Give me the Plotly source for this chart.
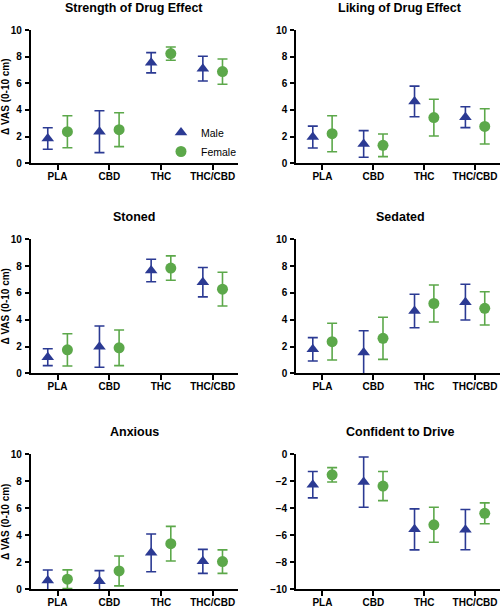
import plotly.graph_objects as go

categories = ["PLA", "CBD", "THC", "THC/CBD"]
titles = ["Strength of Drug Effect", "Liking of Drug Effect", "Stoned",
          "Sedated", "Anxious", "Confident to Drive"]

male_mean = [
    [1.86, 2.37, 7.54, 7.10],
    [1.97, 1.45, 4.64, 3.46],
    [1.20, 1.99, 7.67, 6.80],
    [1.79, 1.55, 4.65, 5.31],
    [0.65, 0.60, 2.70, 2.07],
    [-2.25, -2.06, -5.56, -5.58],
]
male_err = [
    [0.81, 1.57, 0.76, 0.93],
    [0.82, 1.00, 1.15, 0.78],
    [0.63, 1.54, 0.84, 1.10],
    [0.87, 1.62, 1.25, 1.33],
    [0.78, 0.78, 1.40, 0.89],
    [0.98, 1.86, 1.52, 1.49],
]
female_mean = [
    [2.37, 2.52, 8.23, 6.88],
    [2.22, 1.35, 3.43, 2.77],
    [1.75, 1.90, 7.85, 6.28],
    [2.36, 2.61, 5.21, 4.85],
    [0.75, 1.36, 3.38, 2.05],
    [-1.52, -2.35, -5.22, -4.37],
]
female_err = [
    [1.20, 1.27, 0.50, 0.95],
    [1.35, 0.85, 1.38, 1.32],
    [1.20, 1.33, 0.91, 1.26],
    [1.37, 1.57, 1.38, 1.24],
    [0.69, 1.11, 1.28, 0.87],
    [0.53, 1.08, 1.30, 0.77],
]

y_ranges = [[0, 10]] * 5 + [[-10, 0]]
y_ticks = [[0, 2, 4, 6, 8, 10]] * 5 + [[0, -2, -4, -6, -8, -10]]

BLUE = "#2B3A93"
GREEN = "#5CA84A"
FONT = "Liberation Sans, Arial, sans-serif"
W, H = 500, 608

x_domains = [[30.7 / W, 238 / W], [296 / W, 1.0]]
y_domains = [
    [1 - 163.3 / H, 1 - 30 / H],
    [1 - 373.3 / H, 1 - 239.3 / H],
    [1 - 589.3 / H, 1 - 454.3 / H],
]
OFF = 0.19

fig = go.Figure()
layout = dict(
    width=W, height=H, margin=dict(l=0, r=0, t=0, b=0, autoexpand=False),
    paper_bgcolor="white", plot_bgcolor="white",
    font=dict(family=FONT, color="black"),
    showlegend=True,
    legend=dict(x=161 / W, y=1 - 118 / H, xanchor="left", yanchor="top",
                bgcolor="rgba(0,0,0,0)", font=dict(size=10.5, family=FONT),
                itemwidth=30, tracegroupgap=0),
)
annotations = []

idx = list(range(len(categories)))
for p in range(6):
    r, c = divmod(p, 2)
    n = p + 1
    xa = "x" if n == 1 else f"x{n}"
    ya = "y" if n == 1 else f"y{n}"
    xm = [i - OFF for i in idx]
    xf = [i + OFF for i in idx]
    fig.add_trace(go.Scatter(
        x=xm, y=male_mean[p], mode="markers", name="Male",
        showlegend=(p == 0), legendgroup="m",
        marker=dict(symbol="triangle-up", size=11, color=BLUE),
        error_y=dict(type="data", array=male_err[p], color=BLUE,
                     thickness=1.6, width=5),
        xaxis=xa, yaxis=ya, cliponaxis=True))
    fig.add_trace(go.Scatter(
        x=xf, y=female_mean[p], mode="markers", name="Female",
        showlegend=(p == 0), legendgroup="f",
        marker=dict(symbol="circle", size=11, color=GREEN),
        error_y=dict(type="data", array=female_err[p], color=GREEN,
                     thickness=1.6, width=5),
        xaxis=xa, yaxis=ya, cliponaxis=True))

    xkey = "xaxis" if n == 1 else f"xaxis{n}"
    ykey = "yaxis" if n == 1 else f"yaxis{n}"
    layout[xkey] = dict(
        domain=x_domains[c], anchor=ya, range=[-0.52, 3.49], automargin=False,
        tickvals=idx, ticktext=categories, showgrid=False, zeroline=False,
        showline=True, linecolor="black", linewidth=1.6,
        ticks="outside", ticklen=5, tickwidth=1.6, tickcolor="black",
        tickfont=dict(size=10, family=FONT, weight="bold"),
        ticklabelstandoff=-2)
    yax = dict(
        domain=y_domains[r], anchor=xa, range=y_ranges[p], automargin=False,
        tickvals=y_ticks[p], showgrid=False, zeroline=False,
        showline=True, linecolor="black", linewidth=1.6,
        ticks="outside", ticklen=4, tickwidth=1.6, tickcolor="black",
        tickfont=dict(size=10, family=FONT, weight="bold"),
        ticklabelstandoff=1)
    if c == 0:
        yax["title"] = dict(text="Δ VAS (0-10 cm)", standoff=6,
                            font=dict(size=10, family=FONT, weight="bold"))
    layout[ykey] = yax

    if c == 0:
        cx = (x_domains[0][0] + x_domains[0][1]) / 2
    else:
        cx = (296 + 504) / 2 / W
    annotations.append(dict(
        text=titles[p], x=cx, y=y_domains[r][1] + 22 / H,
        xref="paper", yref="paper", xanchor="center", yanchor="middle",
        showarrow=False, font=dict(size=12.5, family=FONT, weight="bold")))

layout["annotations"] = annotations
fig.update_layout(**layout)
fig.write_html(
    "out.html", config={"responsive": False, "displayModeBar": False},
    post_script="document.body.style.margin='0px';"
                "document.body.style.overflow='hidden';")
